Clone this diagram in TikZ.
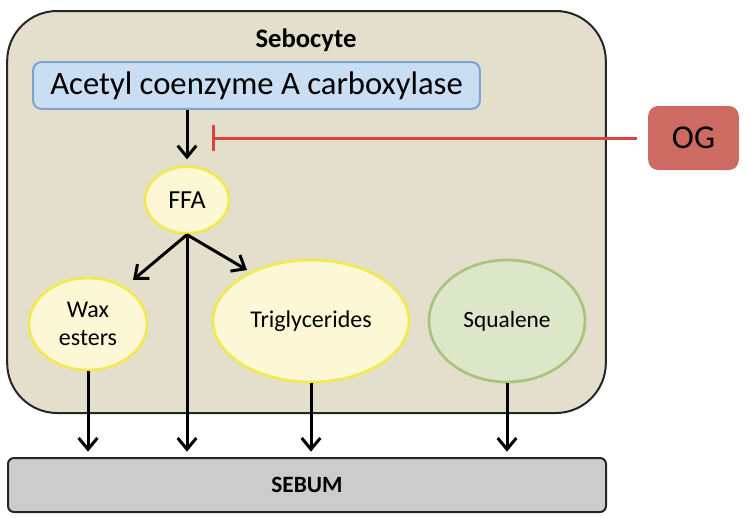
\documentclass[tikz,border=0pt]{standalone}
\usepackage{fontspec}
\setmainfont{Carlito}
\usepackage{tikz}
\usetikzlibrary{positioning,shapes.geometric,arrows.meta}
\definecolor{cellfill}{HTML}{E3DFCC}
\definecolor{accfill}{HTML}{C9DDF3}
\definecolor{accdraw}{HTML}{7DA3D1}
\definecolor{lipfill}{HTML}{FCF8D6}
\definecolor{lipdraw}{HTML}{F3E84D}
\definecolor{squfill}{HTML}{DCE6C9}
\definecolor{squdraw}{HTML}{A9C47A}
\definecolor{sebfill}{HTML}{CCCCCC}
\definecolor{ogfill}{HTML}{CD6A61}
\definecolor{ogline}{HTML}{D9443B}

\begin{document}
\begin{tikzpicture}[x=0.75pt, y=-0.75pt,
	cell/.style={draw=black!85, fill=cellfill, line width=1.5pt, rounded corners=37.5pt,
		minimum width=449pt, minimum height=301.5pt},
	enzyme/.style={draw=accdraw, fill=accfill, line width=1.5pt, rounded corners=6pt,
		minimum width=335pt, minimum height=35pt, font=\fontsize{24.5}{29}\selectfont},
	lipid/.style={ellipse, draw=lipdraw, fill=lipfill, line width=2pt, inner sep=0pt,
		font=\fontsize{18}{21}\selectfont, align=center},
	squal/.style={lipid, draw=squdraw, fill=squfill},
	product/.style={draw=black!85, fill=sebfill, line width=1.5pt, rounded corners=4.5pt,
		minimum width=448.5pt, minimum height=40.5pt, font=\bfseries\fontsize{17.5}{21}\selectfont},
	drug/.style={fill=ogfill, rounded corners=7.5pt, minimum width=68pt, minimum height=48pt,
		font=\fontsize{25}{30}\selectfont},
	flow/.style={-{Straight Barb[length=8.5pt, width=14pt]}, line width=2.25pt},
	inhibit/.style={-{Bar[width=19pt]}, draw=ogline, line width=2.25pt}]

	\useasboundingbox (0,0) rectangle (747,518);

	% cell and its contents
	\node[cell] (cell) at (306.5,212) {};
	\node[font=\bfseries\fontsize{20}{24}\selectfont] (title) at (306,40) {Sebocyte};
	\node[enzyme] (acc) at (256.5,85.5) {Acetyl coenzyme A carboxylase};
	\node[lipid, minimum width=63pt, minimum height=50pt, font=\fontsize{19.5}{23}\selectfont] (ffa) at (187,200) {FFA};
	\node[lipid, minimum width=88.5pt, minimum height=69pt] (wax) at (88,324) {Wax\\esters};
	\node[lipid, minimum width=147pt, minimum height=91.5pt] (tri) at (311,321) {Triglycerides};
	\node[squal, minimum width=117pt, minimum height=91.5pt, font=\fontsize{17.5}{21}\selectfont] (squ) at (507,321) {Squalene};

	\node[product] (sebum) at (307,485) {SEBUM};
	\node[drug] (og) at (693.5,138) {OG};

	\coordinate (block) at (212,138);
	\coordinate (towax) at (133,280);
	\coordinate (totri) at (247,270);

	% pathway
	\draw[flow, shorten >=4.5pt] (ffa.north |- acc.south) -- (ffa.north);
	\draw[inhibit, shorten <=8pt] (og.west) -- (block);
	\draw[flow] (ffa.south) -- (towax);
	\draw[flow] (ffa.south) -- (totri);
	\draw[flow, shorten >=4pt] (ffa.south) -- (ffa.south |- sebum.north);
	\draw[flow, shorten >=4pt] (wax.south) -- (wax.south |- sebum.north);
	\draw[flow, shorten >=4pt] (tri.south) -- (tri.south |- sebum.north);
	\draw[flow, shorten >=4pt] (squ.south) -- (squ.south |- sebum.north);

\end{tikzpicture}
\end{document}
